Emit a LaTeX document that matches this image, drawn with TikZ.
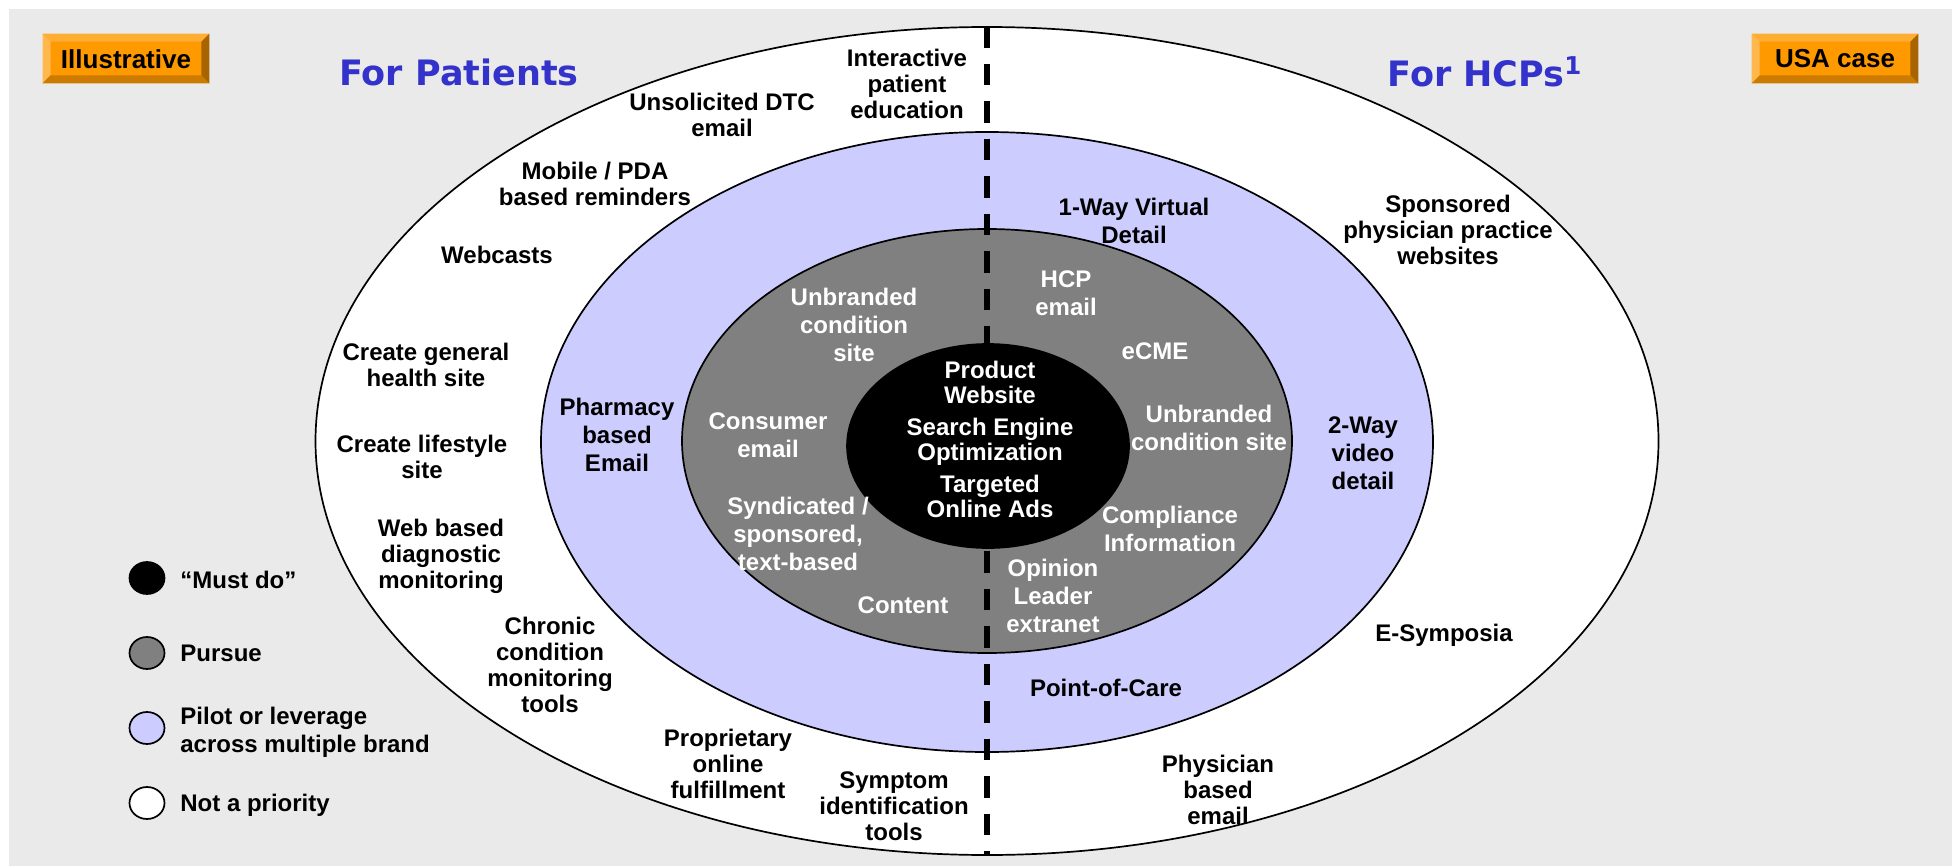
\documentclass[tikz,border=0pt]{standalone}
\usepackage{fontspec}
\setmainfont{Liberation Sans}
\newfontfamily\titlefont{DejaVu Sans}
\usetikzlibrary{shapes.geometric}

\definecolor{bgGray}{HTML}{EAEAEA}
\definecolor{ringLav}{HTML}{CCCCFF}
\definecolor{ringGray}{HTML}{808080}
\definecolor{titleBlue}{HTML}{3333CC}
\definecolor{badgeFace}{HTML}{FF9900}
\definecolor{bevelTop}{HTML}{FFAD33}
\definecolor{bevelLeft}{HTML}{FFB84D}
\definecolor{bevelBottom}{HTML}{CC7A00}
\definecolor{bevelRight}{HTML}{A86400}

% one unit = one pixel of a 1952 x 866 canvas, y pointing down
\tikzset{
  x=0.5pt, y=-0.5pt,
  ring/.style={ellipse, draw=black, line width=0.85pt, inner sep=0pt},
  lbl/.style={font=\fontsize{12}{13}\selectfont\bfseries, align=center, inner sep=0pt, text=black},
  lavlbl/.style={lbl, font=\fontsize{12}{14}\selectfont\bfseries},
  graylbl/.style={lbl, font=\fontsize{12}{14}\selectfont\bfseries, text=white},
  corelbl/.style={lbl, font=\fontsize{12}{12.5}\selectfont\bfseries, text=white},
  legdot/.style={ellipse, draw=black, line width=0.85pt, inner sep=0pt,
    minimum width=17.5pt, minimum height=16pt},
  leglbl/.style={font=\fontsize{12}{14}\selectfont\bfseries, align=left, inner sep=0pt, anchor=west},
  sidetitle/.style={font=\titlefont\fontsize{17.5}{19}\selectfont\bfseries, text=titleBlue, inner sep=0pt},
  badge/.style={fill=badgeFace, minimum width=83pt, minimum height=24.5pt, inner sep=0pt},
  badgelbl/.style={lbl, font=\fontsize{13}{14}\selectfont\bfseries},
  splitline/.style={draw=black, line width=3.25pt, dash pattern=on 10.75pt off 8pt},
}

% bevelled button: four shaded edges round a named node
\newcommand\bevels[1]{%
  \fill[bevelTop] (#1.north west) -- (#1.north east) -- ([shift={(-8,8)}]#1.north east) -- ([shift={(8,8)}]#1.north west) -- cycle;
  \fill[bevelLeft] (#1.north west) -- ([shift={(8,8)}]#1.north west) -- ([shift={(8,-8)}]#1.south west) -- (#1.south west) -- cycle;
  \fill[bevelBottom] (#1.south west) -- (#1.south east) -- ([shift={(-8,-8)}]#1.south east) -- ([shift={(8,-8)}]#1.south west) -- cycle;
  \fill[bevelRight] (#1.north east) -- (#1.south east) -- ([shift={(-8,-8)}]#1.south east) -- ([shift={(-8,8)}]#1.north east) -- cycle;
}

\begin{document}
\begin{tikzpicture}
\useasboundingbox (0,0) rectangle (1952,866);
\fill[white] (0,0) rectangle (1952,866);
\fill[bgGray] (9,9.3) rectangle (1952,866);

% concentric priority rings
\node[ring, fill=white, minimum width=671.5pt, minimum height=414pt] (outer) at (987,441) {};
\node[ring, fill=ringLav, minimum width=446pt, minimum height=310pt] (pilot) at (987,442) {};
\node[ring, fill=ringGray, minimum width=305pt, minimum height=212pt] (pursue) at (987,441) {};
\node[ring, fill=black, minimum width=141pt, minimum height=102pt] (core) at (988,446) {};

% patients / HCP divider
\draw[splitline] (outer.north) -- (outer.south);

% badges
\node[badge] (illus) at (126,58.5) {};
\bevels{illus}
\node[badgelbl] (illusT) at (126,59) {Illustrative};
\node[badge] (usa) at (1835,58.5) {};
\bevels{usa}
\node[badgelbl] (usaT) at (1835,59) {USA case};

% side titles
\node[sidetitle] (tPat) at (459,72) {For Patients};
\node[sidetitle] (tHcp) at (1485,72) {For HCPs\textsuperscript{1}};

% outer ring: not a priority
\node[lbl] (n1) at (907,84) {Interactive\\patient\\education};
\node[lbl] (n2) at (722,115) {Unsolicited DTC\\email};
\node[lbl] (n3) at (595,184) {Mobile / PDA\\based reminders};
\node[lbl] (n4) at (497,255) {Webcasts};
\node[lbl] (n5) at (426,365) {Create general\\health site};
\node[lbl] (n6) at (422,457) {Create lifestyle\\site};
\node[lbl] (n7) at (441,556) {Web based\\diagnostic\\monitoring};
\node[lbl] (n8) at (550,665) {Chronic\\condition\\monitoring\\tools};
\node[lbl] (n9) at (728,764) {Proprietary\\online\\fulfillment};
\node[lbl] (n10) at (894,806) {Symptom\\identification\\tools};
\node[lbl] (n11) at (1448,230) {Sponsored\\physician practice\\websites};
\node[lbl] (n12) at (1444,635) {E-Symposia};
\node[lbl] (n13) at (1218,790) {Physician\\based\\email};

% lavender ring: pilot or leverage
\node[lavlbl] (p1) at (1134,221) {1-Way Virtual\\Detail};
\node[lavlbl] (p2) at (617,435) {Pharmacy\\based\\Email};
\node[lavlbl] (p3) at (1363,453) {2-Way\\video\\detail};
\node[lavlbl] (p4) at (1106,688) {Point-of-Care};

% gray ring: pursue
\node[graylbl] (g1) at (854,325) {Unbranded\\condition\\site};
\node[graylbl] (g2) at (1066,293) {HCP\\email};
\node[graylbl] (g3) at (1155,351) {eCME};
\node[graylbl] (g4) at (768,435) {Consumer\\email};
\node[graylbl] (g5) at (1209,428) {Unbranded\\condition site};
\node[graylbl] (g6) at (798,534) {Syndicated /\\sponsored,\\text-based};
\node[graylbl] (g7) at (1170,529) {Compliance\\Information};
\node[graylbl] (g8) at (903,605) {Content};
\node[graylbl] (g9) at (1053,596) {Opinion\\Leader\\extranet};

% core: must do
\node[corelbl] (c1) at (990,439) {Product\\Website\\[3.5pt]Search Engine\\Optimization\\[3.5pt]Targeted\\Online Ads};

% legend
\node[legdot, fill=black] (k1) at (147,578) {};
\node[legdot, fill=ringGray] (k2) at (147,653) {};
\node[legdot, fill=ringLav] (k3) at (147,728) {};
\node[legdot, fill=white] (k4) at (147,803) {};
\node[leglbl] (k1t) at (180,580) {“Must do”};
\node[leglbl] (k2t) at (180,653) {Pursue};
\node[leglbl] (k3t) at (180,732) {Pilot or leverage\\across multiple brand};
\node[leglbl] (k4t) at (180,805) {Not a priority};
\end{tikzpicture}
\end{document}
